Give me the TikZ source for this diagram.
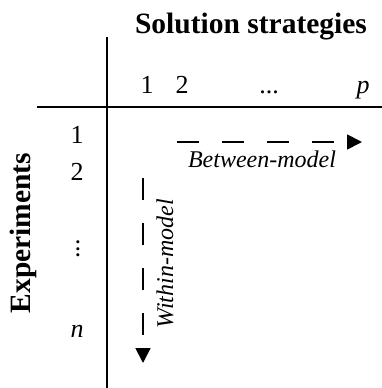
\documentclass[tikz,border=0pt]{standalone}
\usepackage{fontspec}
\setmainfont{Liberation Serif}
\usetikzlibrary{arrows.meta}
\tikzset{
  axis/.style={line width=1.8pt, draw=black},
  head/.style={font=\fontsize{29.5}{30}\selectfont\bfseries},
  num/.style={font=\fontsize{26}{26}\selectfont, anchor=base},
  lbl/.style={font=\fontsize{24}{24}\selectfont\itshape},
  flow/.style={line width=1.8pt, dash pattern=on 22pt off 23pt,
               -{Triangle[length=15pt, width=15pt]}},
}
\begin{document}
\begin{tikzpicture}[x=1pt, y=-1pt]
\useasboundingbox (0,0) rectangle (382,388);

% ---- headings -------------------------------------------------------------
\node[head, anchor=base] (title) at (251,33) {Solution strategies};
\node[head, rotate=90] (exp) at (23,233) {Experiments};

% ---- the two axes ----------------------------------------------------------
\coordinate (vtop) at (107,37);
\coordinate (vbot) at (107,388);
\coordinate (hleft) at (37,107);
\coordinate (hright) at (382,107);
\draw[axis] (vtop) -- (vbot);
\draw[axis] (hleft) -- (hright);

% ---- strategy numbers along the top ---------------------------------------
\node[num] (s1) at (147,93) {1};
\node[num] (s2) at (182,93) {2};
\node[num] (sdots) at (269,93) {...};
\node[num] (sp) at (363,93) {\textit{p}};

% ---- experiment numbers down the side -------------------------------------
\node[num] (e1) at (77,143) {1};
\node[num] (e2) at (77,180) {2};
\node[num, rotate=90, anchor=center] (edots) at (78,249) {...};
\node[num] (en) at (77,337) {\textit{n}};

% ---- arrows ----------------------------------------------------------------
\coordinate (bstart) at (177,142);
\coordinate (bend) at (362,142);
\draw[flow] (bstart) -- (bend);
\node[lbl, anchor=base] (between) at (262,167) {Between-model};
\coordinate (wstart) at (143,178);
\coordinate (wend) at (143,363);
\draw[flow] (wstart) -- (wend);
\node[lbl, rotate=90] (within) at (165,264) {Within-model};
\end{tikzpicture}
\end{document}
